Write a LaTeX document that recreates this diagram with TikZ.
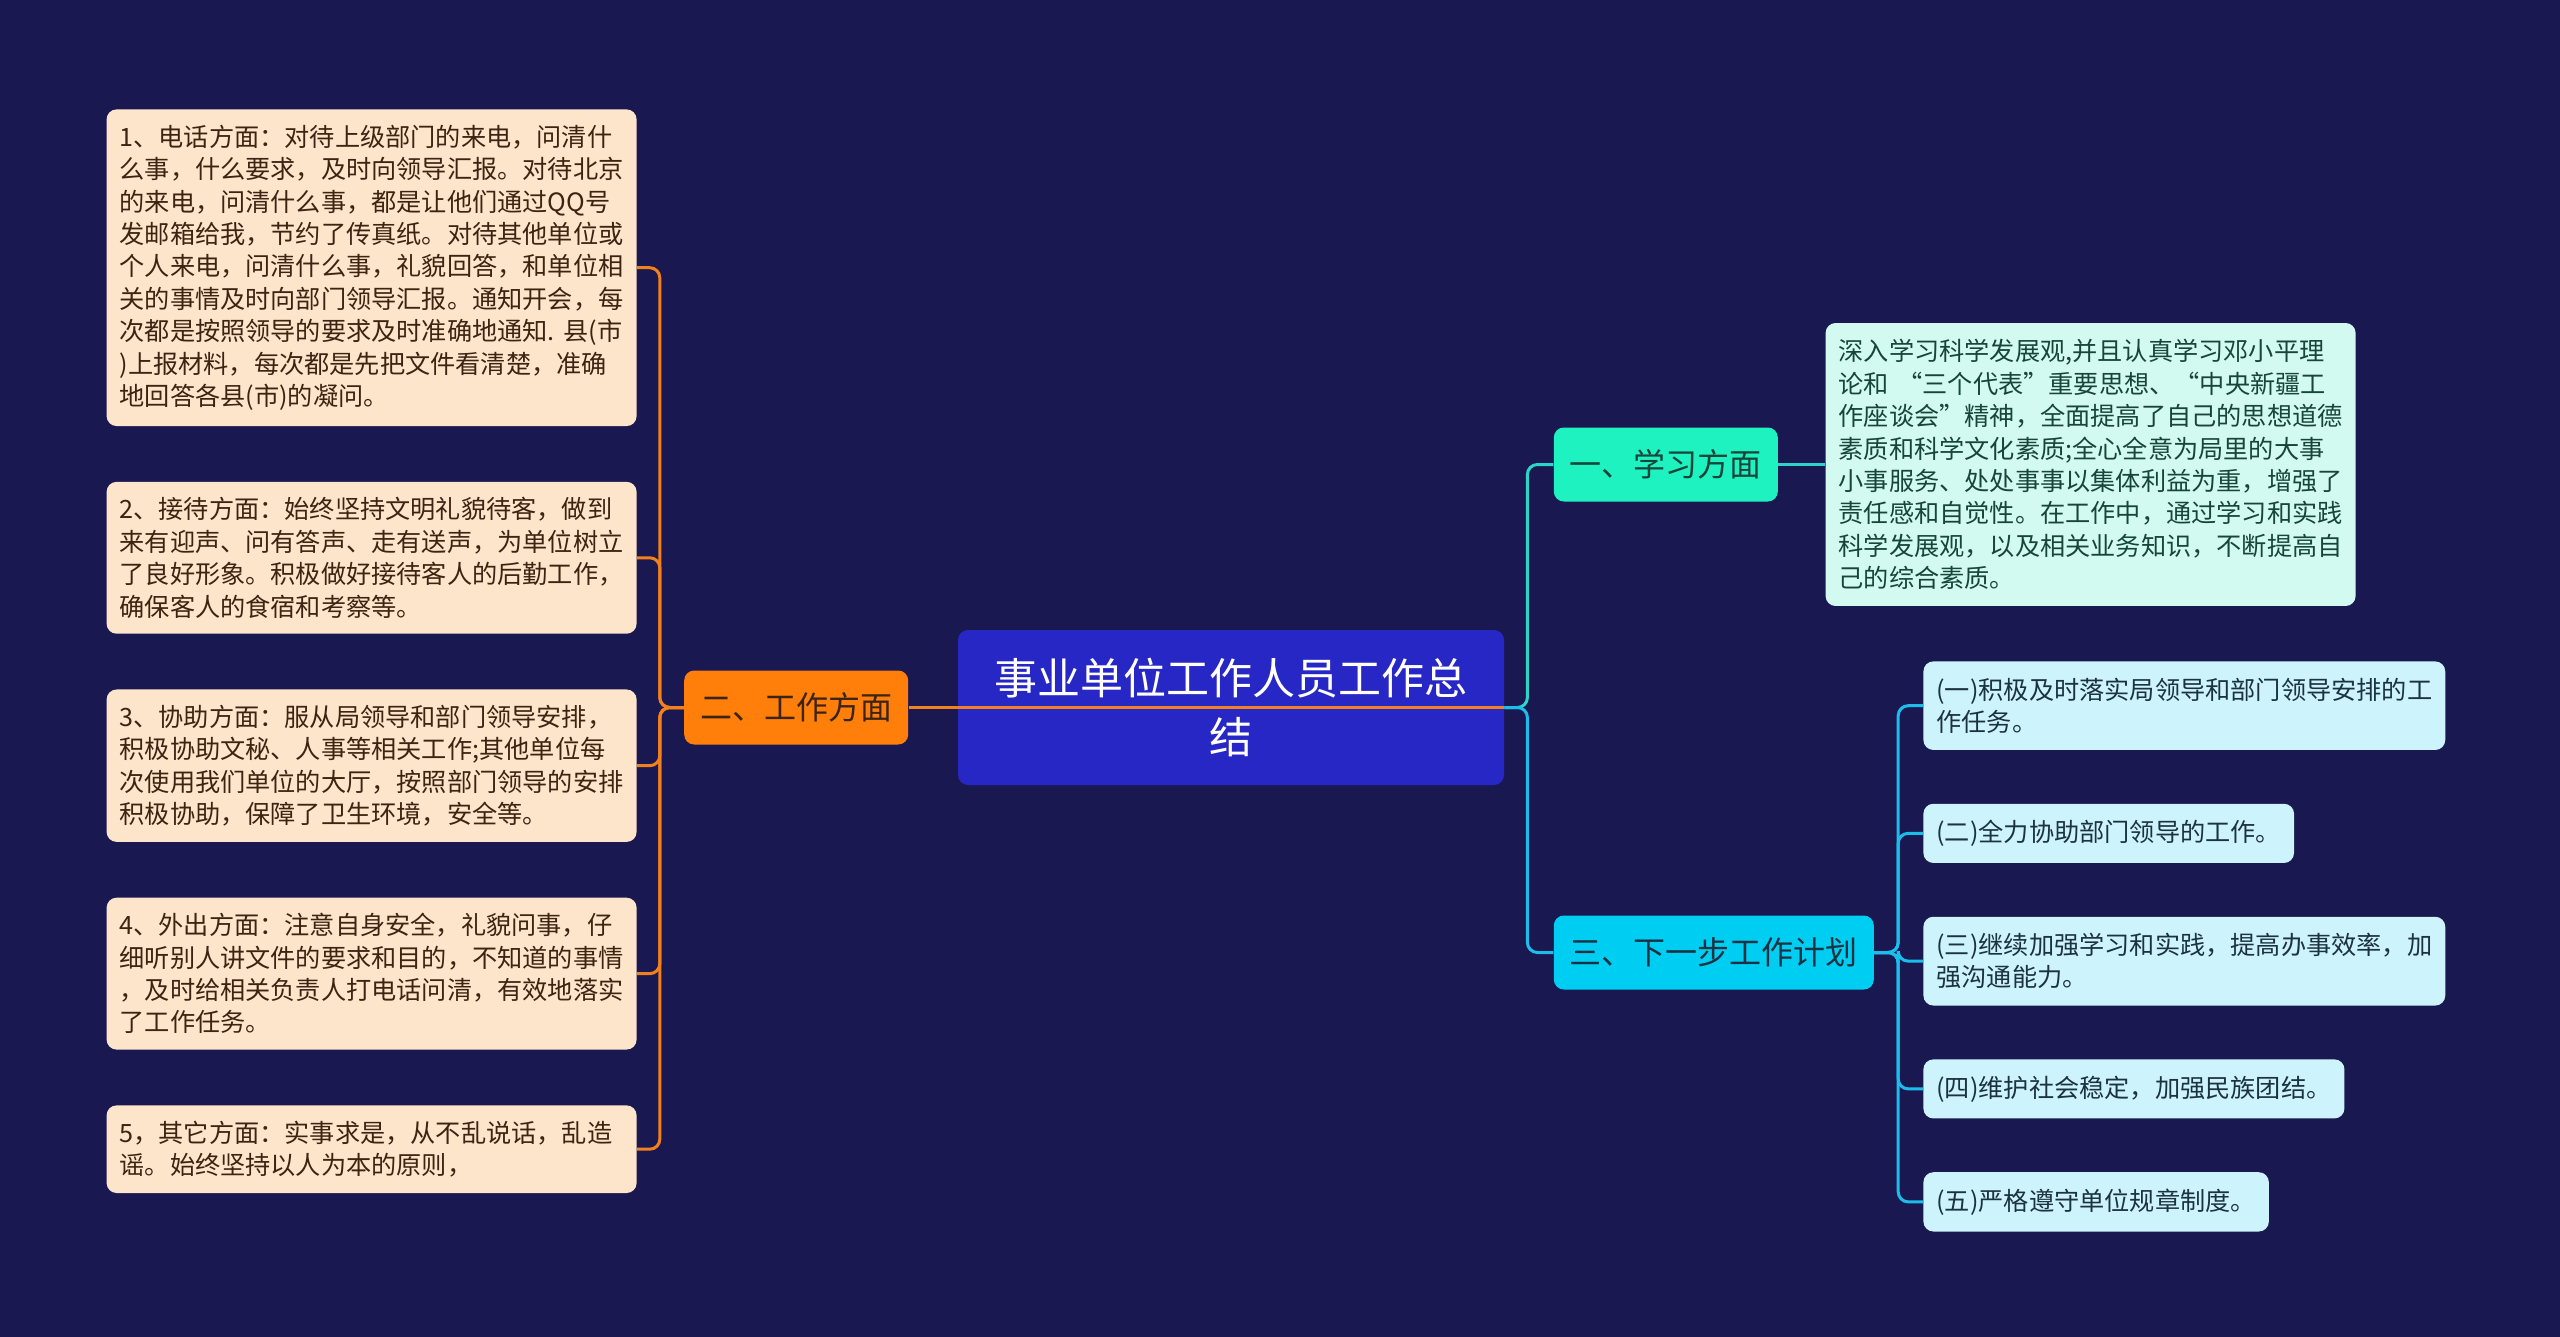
\documentclass[tikz,border=0pt]{standalone}
\usepackage{fontspec}
\setmainfont{Noto Sans CJK SC}
\usetikzlibrary{positioning}

\definecolor{bgnavy}{HTML}{1A1851}
\definecolor{rootblue}{HTML}{2727C6}
\definecolor{workorange}{HTML}{FF7F0A}
\definecolor{worklink}{HTML}{F2801C}
\definecolor{jobfill}{HTML}{FDE5CB}
\definecolor{jobtext}{HTML}{3C2413}
\definecolor{studygreen}{HTML}{1EF2C0}
\definecolor{studylink}{HTML}{2BD6C8}
\definecolor{studyfill}{HTML}{D3FAF0}
\definecolor{studytext}{HTML}{17453A}
\definecolor{plancyan}{HTML}{00CDF2}
\definecolor{planlink}{HTML}{1DBDEB}
\definecolor{planfill}{HTML}{CDF4FC}
\definecolor{plantext}{HTML}{1C3242}

\begin{document}
\begin{tikzpicture}[
    x=1pt, y=1pt,
    root/.style={fill=rootblue, text=white, rounded corners=5pt, align=center, minimum width=273pt, minimum height=77.5pt, font=\fontsize{21.5}{29.5}\selectfont},
    branch/.style={rounded corners=5pt, minimum height=37pt, inner xsep=8pt, font=\fontsize{16}{20}\selectfont},
    leaf/.style={rounded corners=5pt, align=left, inner xsep=6.5pt, inner ysep=8.2pt, font=\fontsize{12.6}{16.2}\selectfont},
    jobbox/.style={leaf, fill=jobfill, text=jobtext, text width=252pt, inner ysep=7.8pt},
    studybox/.style={leaf, fill=studyfill, text=studytext, text width=252pt},
    planbox/.style={leaf, fill=planfill, text=plantext},
    link/.style={line width=1.5pt, rounded corners=5pt}
]
\fill[bgnavy] (0,0) rectangle (1280,-668.5);
\useasboundingbox (0,0) rectangle (1280,-668.5);

\node[root] (root) at (615.5,-353.75) {事业单位工作人员工作总\\结};

% left side
\node[branch, fill=workorange, text=jobtext, left=24.5pt of root] (work) {二、工作方面};
\node[jobbox, anchor=north east] (job1) at (318.5,-54.5) {1、电话方面：对待上级部门的来电，问清什\\么事，什么要求，及时向领导汇报。对待北京\\的来电，问清什么事，都是让他们通过QQ号\\发邮箱给我，节约了传真纸。对待其他单位或\\个人来电，问清什么事，礼貌回答，和单位相\\关的事情及时向部门领导汇报。通知开会，每\\次都是按照领导的要求及时准确地通知.~县(市\\)上报材料，每次都是先把文件看清楚，准确\\地回答各县(市)的凝问。};
\node[jobbox, below=27.5pt of job1] (job2) {2、接待方面：始终坚持文明礼貌待客，做到\\来有迎声、问有答声、走有送声，为单位树立\\了良好形象。积极做好接待客人的后勤工作，\\确保客人的食宿和考察等。};
\node[jobbox, below=27.5pt of job2] (job3) {3、协助方面：服从局领导和部门领导安排，\\积极协助文秘、人事等相关工作;其他单位每\\次使用我们单位的大厅，按照部门领导的安排\\积极协助，保障了卫生环境，安全等。};
\node[jobbox, below=27.5pt of job3] (job4) {4、外出方面：注意自身安全，礼貌问事，仔\\细听别人讲文件的要求和目的，不知道的事情\\，及时给相关负责人打电话问清，有效地落实\\了工作任务。};
\node[jobbox, below=27.5pt of job4] (job5) {5，其它方面：实事求是，从不乱说话，乱造\\谣。始终坚持以人为本的原则，};

% right side
\node[branch, fill=studygreen, text=studytext, right=24.5pt of root, yshift=121.5pt] (study) {一、学习方面};
\node[studybox, right=23.5pt of study] (studynote) {深入学习科学发展观,并且认真学习邓小平理\\论和~“三个代表”重要思想、“中央新疆工\\作座谈会”精神，全面提高了自己的思想道德\\素质和科学文化素质;全心全意为局里的大事\\小事服务、处处事事以集体利益为重，增强了\\责任感和自觉性。在工作中，通过学习和实践\\科学发展观，以及相关业务知识，不断提高自\\己的综合素质。};
\node[branch, fill=plancyan, text=plantext, right=24.5pt of root, yshift=-122.5pt] (plan) {三、下一步工作计划};
\node[planbox, anchor=north west] (plan1) at (961.5,-330.5) {(一)积极及时落实局领导和部门领导安排的工\\作任务。};
\node[planbox, below right=26.5pt and 0pt of plan1.south west] (plan2) {(二)全力协助部门领导的工作。};
\node[planbox, below right=26.5pt and 0pt of plan2.south west] (plan3) {(三)继续加强学习和实践，提高办事效率，加\\强沟通能力。};
\node[planbox, below right=26.5pt and 0pt of plan3.south west] (plan4) {(四)维护社会稳定，加强民族团结。};
\node[planbox, below right=26.5pt and 0pt of plan4.south west] (plan5) {(五)严格遵守单位规章制度。};

% connectors
\draw[link, worklink] (work.east) -- (root.east);
\foreach \j in {1,...,5}
  \draw[link, worklink] (work.west) -- ++(-12,0) |- (job\j.east);
\draw[link, studylink] (root.east) -- ++(11.5,0) |- (study.west);
\draw[link, studylink] (study.east) -- (studynote.west);
\draw[link, planlink] (root.east) -- ++(11.5,0) |- (plan.west);
\foreach \p in {1,...,5}
  \draw[link, planlink] (plan.east) -- ++(12,0) |- (plan\p.west);
\end{tikzpicture}
\end{document}
